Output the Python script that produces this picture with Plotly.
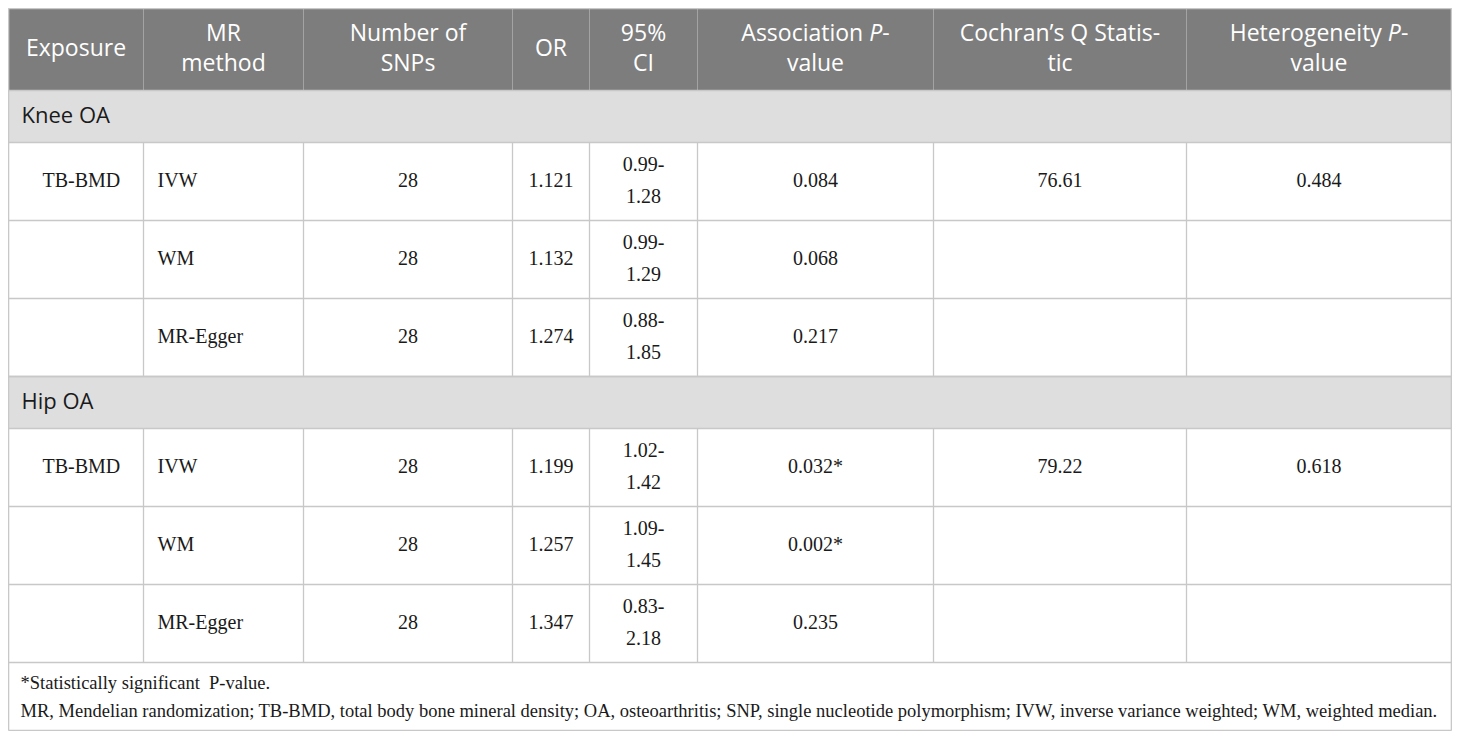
import plotly.graph_objects as go

# table content
groups = ["Knee OA", "Hip OA"]
exposure = ["TB-BMD", "", "", "TB-BMD", "", ""]
methods = ["IVW", "WM", "MR-Egger", "IVW", "WM", "MR-Egger"]
n_snps = [28, 28, 28, 28, 28, 28]
odds_ratio = [1.121, 1.132, 1.274, 1.199, 1.257, 1.347]
ci_low = [0.99, 0.99, 0.88, 1.02, 1.09, 0.83]
ci_high = [1.28, 1.29, 1.85, 1.42, 1.45, 2.18]
assoc_p = ["0.084", "0.068", "0.217", "0.032*", "0.002*", "0.235"]
cochran_q = ["76.61", "", "", "79.22", "", ""]
het_p = ["0.484", "", "", "0.618", "", ""]

headers = ["Exposure", "MR<br>method", "Number of<br>SNPs", "OR", "95%<br>CI",
           "Association <i>P</i>-<br>value", "Cochran\u2019s Q Statis-<br>tic",
           "Heterogeneity <i>P</i>-<br>value"]
footnotes = [
    "*Statistically significant  P-value.",
    "MR, Mendelian randomization; TB-BMD, total body bone mineral density; OA, osteoarthritis; "
    "SNP, single nucleotide polymorphism; IVW, inverse variance weighted; WM, weighted median.",
]

# geometry in page pixels (the page body has an 8px margin)
PAGE_W, PAGE_H, BODY_M = 1460, 739, 8
col_w = [135, 160, 209, 77, 108, 236, 253, 265]
x_start, y_start = 8.5, 8.5
header_h, group_h, row_h, foot_h = 82, 52, 78, 68
rows_per_group = 3

edges = [x_start]
for w in col_w:
    edges.append(edges[-1] + w)
centers = [(a + b) / 2 for a, b in zip(edges[:-1], edges[1:])]
x_end = edges[-1]

y = y_start
header_top, header_bot = y, y + header_h
y = header_bot
group_bands = []
data_bands = []
row_centers = []
for g in groups:
    group_bands.append((y, y + group_h))
    y += group_h
    top = y
    for _ in range(rows_per_group):
        row_centers.append(y + row_h / 2)
        y += row_h
    data_bands.append((top, y))
foot_top, foot_bot = y, y + foot_h

GRID = "#c8c8c8"
TXT = "#1a1a1a"
SANS = "Open Sans"
SERIF = "Liberation Serif"

fig = go.Figure()

shapes = []
shapes.append(dict(type="rect", x0=x_start, x1=x_end, y0=header_top, y1=header_bot,
                   fillcolor="#7d7d7d", line=dict(width=0), layer="below"))
for e in edges[1:-1]:
    shapes.append(dict(type="line", x0=e, x1=e, y0=header_top, y1=header_bot,
                       line=dict(color="#a3a3a3", width=1)))
for (t, b) in group_bands:
    shapes.append(dict(type="rect", x0=x_start, x1=x_end, y0=t, y1=b,
                       fillcolor="#dedede", line=dict(width=0), layer="below"))
for (t, b) in data_bands:
    for e in edges[1:-1]:
        shapes.append(dict(type="line", x0=e, x1=e, y0=t, y1=b,
                           line=dict(color=GRID, width=1.3)))
    for k in range(rows_per_group + 1):
        yy = t + k * row_h
        shapes.append(dict(type="line", x0=x_start, x1=x_end, y0=yy, y1=yy,
                           line=dict(color=GRID, width=1.6)))
for (t, b) in group_bands:
    shapes.append(dict(type="line", x0=x_start, x1=x_end, y0=t, y1=t,
                       line=dict(color=GRID, width=1.6)))
shapes.append(dict(type="line", x0=x_start, x1=x_end, y0=foot_bot, y1=foot_bot,
                   line=dict(color=GRID, width=1.6)))
for xx in (x_start, x_end):
    shapes.append(dict(type="line", x0=xx, x1=xx, y0=header_top, y1=foot_bot,
                       line=dict(color=GRID, width=1.6)))
shapes.append(dict(type="line", x0=x_start, x1=x_end, y0=header_top, y1=header_top,
                   line=dict(color=GRID, width=1.6)))

# header text
fig.add_trace(go.Scatter(
    x=centers, y=[(header_top + header_bot) / 2 + 1] * len(headers), text=headers,
    mode="text", textposition="middle center",
    textfont=dict(family=SANS, size=23, color="white"), hoverinfo="skip"))

# group labels
fig.add_trace(go.Scatter(
    x=[edges[0] + 13] * len(groups), y=[(t + b) / 2 + 1 for t, b in group_bands], text=groups,
    mode="text", textposition="middle right",
    textfont=dict(family=SANS, size=22, color=TXT), hoverinfo="skip"))

body_font = dict(family=SERIF, size=20, color=TXT)
fig.add_trace(go.Scatter(
    x=[edges[0] + 34] * len(exposure), y=row_centers, text=exposure,
    mode="text", textposition="middle right", textfont=body_font, hoverinfo="skip"))
fig.add_trace(go.Scatter(
    x=[edges[1] + 14] * len(methods), y=row_centers, text=methods,
    mode="text", textposition="middle right", textfont=body_font, hoverinfo="skip"))

centered_cols = {
    2: [str(v) for v in n_snps],
    3: [f"{v:.3f}" for v in odds_ratio],
    5: assoc_p,
    6: cochran_q,
    7: het_p,
}
for ci, col in centered_cols.items():
    fig.add_trace(go.Scatter(
        x=[centers[ci]] * len(col), y=row_centers, text=col,
        mode="text", textposition="middle center", textfont=body_font, hoverinfo="skip"))

# confidence interval, split over two lines
fig.add_trace(go.Scatter(
    x=[centers[4]] * len(ci_low), y=[c - 16 for c in row_centers],
    text=[f"{v:.2f}-" for v in ci_low],
    mode="text", textposition="middle center", textfont=body_font, hoverinfo="skip"))
fig.add_trace(go.Scatter(
    x=[centers[4]] * len(ci_high), y=[c + 16 for c in row_centers],
    text=[f"{v:.2f}" for v in ci_high],
    mode="text", textposition="middle center", textfont=body_font, hoverinfo="skip"))

# footnotes
fig.add_trace(go.Scatter(
    x=[edges[0] + 12] * len(footnotes), y=[foot_top + 22, foot_top + 50], text=footnotes,
    mode="text", textposition="middle right",
    textfont=dict(family=SERIF, size=18.5, color=TXT), hoverinfo="skip"))

fig.update_layout(
    width=PAGE_W - 2 * BODY_M, height=PAGE_H - 2 * BODY_M,
    margin=dict(l=0, r=0, t=0, b=0),
    paper_bgcolor="white", plot_bgcolor="white",
    showlegend=False,
    shapes=shapes,
    xaxis=dict(range=[BODY_M, PAGE_W - BODY_M], visible=False, fixedrange=True),
    yaxis=dict(range=[PAGE_H - BODY_M, BODY_M], visible=False, fixedrange=True),
)

fig.write_html("out.html")
